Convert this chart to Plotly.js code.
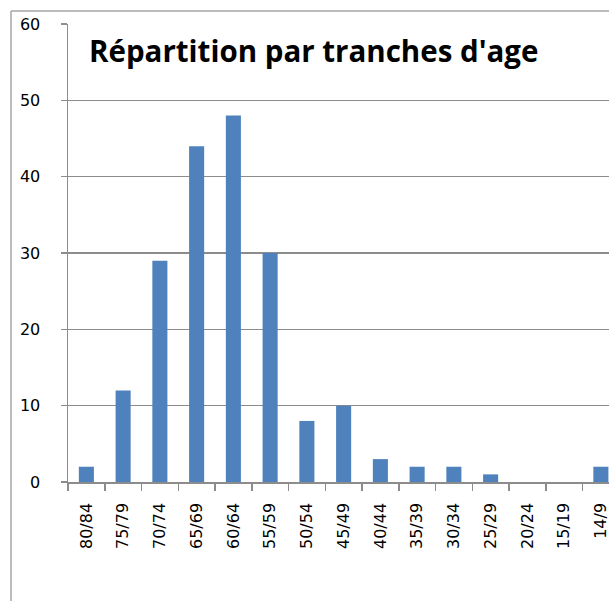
<!DOCTYPE html>
<html>
<head>
<meta charset="utf-8">
<script src="https://cdn.plot.ly/plotly-3.0.1.min.js"></script>
<style>
html,body{margin:0;padding:0;background:#fff;overflow:hidden;}
#chart{width:609px;height:601px;}
</style>
</head>
<body>
<div id="chart"></div>
<script>
const categories = ["80/84","75/79","70/74","65/69","60/64","55/59","50/54","45/49","40/44","35/39","30/34","25/29","20/24","15/19","14/9"];
const values = [2, 12, 29, 44, 48, 30, 8, 10, 3, 2, 2, 1, 0, 0, 2];
const yTicks = [0, 10, 20, 30, 40, 50, 60];
const titleText = "Répartition par tranches d'age";

const W = 609, H = 601;
const L = 68, T = 24, B = 119, R = 0;
const pw = W - L - R;
const catW = 36.75;
const nVisible = pw / catW;

const trace = {
  type: 'bar',
  x: categories,
  y: values,
  marker: {color: '#4F81BD', line: {width: 0}},
  hoverinfo: 'x+y'
};

const gray = '#8c8c8c';
const layout = {
  width: W, height: H,
  margin: {l: L, r: R, t: T, b: B, pad: 0},
  paper_bgcolor: '#ffffff',
  plot_bgcolor: '#ffffff',
  showlegend: false,
  bargap: 0.59,
  title: {
    text: '<b>' + titleText + '</b>',
    font: {family: 'Open Sans', size: 29.5, color: '#000000'},
    x: 89 / W, xref: 'container', xanchor: 'left',
    y: 1 - 41 / H, yref: 'container', yanchor: 'top'
  },
  xaxis: {
    type: 'category',
    range: [-0.5, -0.5 + nVisible],
    tickson: 'boundaries',
    ticks: 'outside', ticklen: 7, tickwidth: 1.5, tickcolor: gray,
    tickangle: -90,
    tickfont: {family: 'DejaVu Sans', size: 16, color: '#000000'},
    ticklabelstandoff: 13,
    showline: true, linecolor: gray, linewidth: 1.5,
    showgrid: false, zeroline: false,
    fixedrange: true
  },
  yaxis: {
    range: [0, 60],
    tickvals: yTicks,
    ticktext: yTicks.map(String),
    ticks: 'outside', ticklen: 6, tickwidth: 1.5, tickcolor: gray,
    tickfont: {family: 'DejaVu Sans', size: 16, color: '#000000'},
    showline: true, linecolor: gray, linewidth: 1.5,
    showgrid: true, gridcolor: gray, gridwidth: 1.5,
    zeroline: false,
    ticklabelstandoff: 17,
    fixedrange: true
  },
  shapes: [
    {type: 'line', xref: 'paper', yref: 'paper',
     x0: (11 - L) / pw, x1: (11 - L) / pw, y0: 1 + (T - 11) / (H - T - B), y1: -B / (H - T - B),
     line: {color: '#a6a6a6', width: 1.5}},
    {type: 'line', xref: 'paper', yref: 'paper',
     x0: (11 - L) / pw, x1: 1, y0: 1 + (T - 11) / (H - T - B), y1: 1 + (T - 11) / (H - T - B),
     line: {color: '#a6a6a6', width: 1.5}}
  ]
};

Plotly.newPlot('chart', [trace], layout, {displayModeBar: false, staticPlot: true});
</script>
</body>
</html>
